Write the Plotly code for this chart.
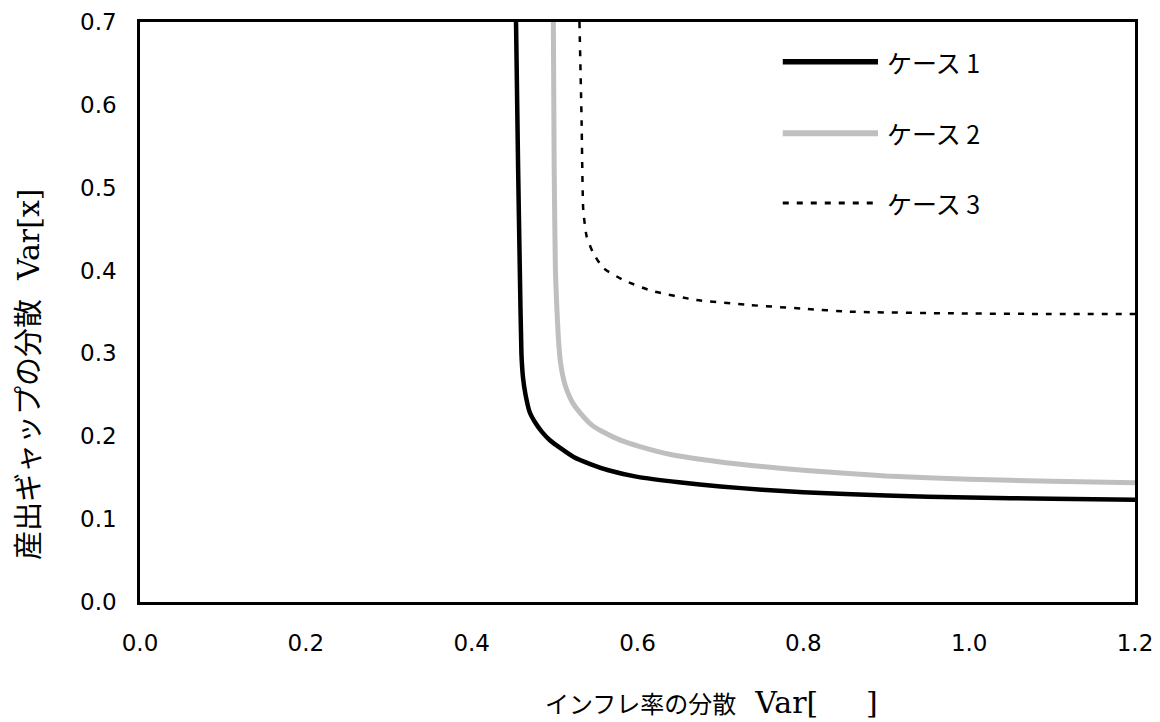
import plotly.graph_objects as go

# ---- data ----
case1_x = [0.4535, 0.456, 0.458, 0.460, 0.462, 0.465, 0.470, 0.477, 0.485, 0.494, 0.508, 0.523,
           0.543, 0.565, 0.600, 0.650, 0.700, 0.750, 0.800, 0.900, 1.000, 1.100, 1.200]
case1_y = [0.700, 0.525, 0.405, 0.300, 0.270, 0.250, 0.229, 0.216, 0.205, 0.1955, 0.185, 0.175,
           0.1665, 0.159, 0.151, 0.1445, 0.1395, 0.1355, 0.1325, 0.1285, 0.126, 0.1245, 0.1235]

case2_x = [0.4985, 0.4995, 0.501, 0.5025, 0.5045, 0.507, 0.511, 0.515, 0.522, 0.531, 0.545, 0.557,
           0.580, 0.603, 0.640, 0.700, 0.750, 0.800, 0.900, 1.000, 1.100, 1.200]
case2_y = [0.700, 0.525, 0.400, 0.360, 0.320, 0.290, 0.268, 0.255, 0.240, 0.228, 0.2135, 0.206,
           0.195, 0.1875, 0.178, 0.169, 0.1635, 0.159, 0.152, 0.148, 0.1458, 0.144]

case3_x = [0.530, 0.5326, 0.5346, 0.5387, 0.5467, 0.5588, 0.583, 0.617, 0.671, 0.7356, 0.800,
           0.856, 0.977, 1.097, 1.200]
case3_y = [0.700, 0.580, 0.473, 0.441, 0.421, 0.403, 0.3886, 0.3755, 0.3645, 0.3584, 0.354,
           0.3504, 0.3484, 0.3476, 0.3475]

series_names = ["ケース 1", "ケース 2", "ケース 3"]
x_ticks = [0.0, 0.2, 0.4, 0.6, 0.8, 1.0, 1.2]
y_ticks = [0.0, 0.1, 0.2, 0.3, 0.4, 0.5, 0.6, 0.7]

# ---- styles ----
styles = [
    dict(color="#000000", width=4.5, dash="solid"),
    dict(color="#bfbfbf", width=5, dash="solid"),
    dict(color="#000000", width=2.5, dash="6px,8px"),
]

fig = go.Figure()
for xs, ys, name, st in zip([case1_x, case2_x, case3_x], [case1_y, case2_y, case3_y],
                            series_names, styles):
    fig.add_trace(go.Scatter(x=xs, y=ys, mode="lines", name=name,
                             line=dict(color=st["color"], width=st["width"], dash=st["dash"],
                                       shape="spline", smoothing=0.5),
                             showlegend=False))

tick_font = dict(family="DejaVu Sans", size=23, color="#000000")
fig.update_xaxes(range=[0, 1.2], tickvals=x_ticks, tickformat=".1f", showgrid=False,
                 zeroline=False, showline=True, linecolor="#000000", linewidth=2.5,
                 mirror=True, ticks="", tickfont=tick_font, ticklabelstandoff=19,
                 automargin=False, ticklabeloverflow="allow")
fig.update_yaxes(range=[0, 0.7], tickvals=y_ticks, tickformat=".1f", showgrid=False,
                 zeroline=False, showline=True, linecolor="#000000", linewidth=2.5,
                 mirror=True, ticks="", tickfont=tick_font, ticklabelstandoff=16,
                 automargin=False, ticklabeloverflow="allow")

# ---- manual legend ----
leg_x0, leg_x1, txt_x = 0.646, 0.7417, 0.7487
leg_rows = [0.9316, 0.8081, 0.688]
for name, st, yy in zip(series_names, styles, leg_rows):
    fig.add_shape(type="line", xref="paper", yref="paper", x0=leg_x0, x1=leg_x1, y0=yy, y1=yy,
                  line=dict(color=st["color"], width=st["width"] + (1 if st["dash"] == "solid" else 0.5),
                            dash=st["dash"]))
    fig.add_annotation(xref="paper", yref="paper", x=txt_x, y=yy, text=name, showarrow=False,
                       xanchor="left", yanchor="middle",
                       font=dict(family="Noto Sans CJK JP", size=25, color="#000000"))

serif = "font-family:'DejaVu Serif';font-size:30px"
fig.add_annotation(xref="paper", yref="paper", x=0.574, y=-0.174, showarrow=False,
                   xanchor="center", yanchor="middle",
                   text=f"インフレ率の分散<span style=\"{serif}\">  Var[     ]</span>",
                   font=dict(family="Noto Sans CJK JP", size=24, color="#000000"))
fig.add_annotation(xref="paper", yref="paper", x=-0.1146, y=0.393, showarrow=False,
                   xanchor="center", yanchor="middle", textangle=-90,
                   text=f"産出ギャップの分散<span style=\"{serif}\">  Var[x]</span>",
                   font=dict(family="Noto Sans CJK JP", size=29, color="#000000"))

fig.update_layout(width=1160, height=722, margin=dict(l=140, r=25, t=22, b=120),
                  plot_bgcolor="#ffffff", paper_bgcolor="#ffffff")

# remove the browser's default 8px body margin so the figure fills the window exactly
fig.write_html("out.html", config={"displayModeBar": False},
               post_script="document.body.style.margin='0px';")
